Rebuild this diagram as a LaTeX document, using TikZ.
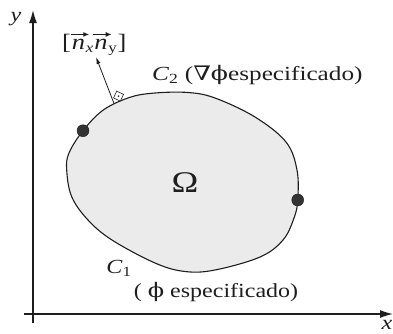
\documentclass[tikz,border=0pt]{standalone}
\usepackage{graphicx}
\usepackage{fontspec}
\setmainfont{Liberation Serif}
\newfontfamily\symfont{DejaVu Serif}
\usetikzlibrary{arrows.meta,positioning}
\definecolor{ink}{HTML}{1E1E1E}
\definecolor{regionfill}{HTML}{EBEBEB}
\definecolor{dotfill}{HTML}{333333}
\tikzset{
  axis/.style={draw=ink, line width=1.3pt, -{Latex[length=13pt,width=8pt]}},
  boundary/.style={draw=ink, line width=1.1pt, fill=regionfill},
  bdot/.style={circle, fill=dotfill, draw=ink, line width=0.4pt, minimum size=12pt, inner sep=0pt},
  lbl/.style={text=ink, inner sep=0pt, font=\fontsize{20}{22}\selectfont},
  normalarrow/.style={draw=ink, line width=0.8pt, -{Latex[length=7pt,width=4pt]}},
  vecarrow/.style={draw=ink, line width=1.4pt, -{Latex[length=6pt,width=5pt]}},
  rightsq/.style={draw=ink, line width=0.6pt, fill=white, minimum size=7.5pt, inner sep=0pt, rotate=-25},
}
\newcommand{\wide}[2][1.2]{\scalebox{#1}[1]{#2}}
\begin{document}
\begin{tikzpicture}[x=1pt,y=-1pt]
\useasboundingbox (0,0) rectangle (393,333);
% axes
\coordinate (xs) at (24,314);
\coordinate (xe) at (393,314);
\coordinate (ys) at (33,323);
\coordinate (ye) at (33,10);
\draw[axis] (xs) -- (xe);
\draw[axis] (ys) -- (ye);
\node[lbl, font=\fontsize{20}{22}\selectfont\itshape] (xl) at (387,325) {\wide{x}};
\node[lbl, font=\fontsize{20}{22}\selectfont\itshape] (yl) at (16,19) {\wide{y}};
% region
\draw[boundary] plot[smooth cycle, tension=0.6] coordinates {
  (83,130.7) (103.3,110) (130,97.3) (155,93) (188,92.5) (215,98)
  (255,117) (286,142) (297,170) (297.7,200) (294,218)
  (283,240) (260,257) (215,270) (185,271.5) (155,263) (112,240)
  (88,220) (71.7,196.7) (66.7,170) (69,153)
};
\node[bdot] (d1) at (83,130.7) {};
\node[bdot] (d2) at (297.7,200) {};
% normal vector
\coordinate (t) at (114,103.5);
\node[rightsq, anchor=south east] (sq) at (120.5,101.5) {};
\fill[ink] (sq.center) circle (0.9pt);
\coordinate (tip) at (96,57);
\draw[normalarrow] (t) -- (tip);
% label [n_x n_y]
\node[lbl, anchor=base west, font=\fontsize{22}{24}\selectfont] (lb) at (62,49) {\wide{[}};
\node[lbl, base right=0.5pt of lb, font=\fontsize{22}{24}\selectfont\itshape] (n1) {\wide{n}};
\node[lbl, base right=0.5pt of n1, yshift=-3pt, font=\fontsize{14}{15}\selectfont\itshape] (sx) {\wide{x}};
\node[lbl, base right=0.5pt of sx, yshift=3pt, font=\fontsize{22}{24}\selectfont\itshape] (n2) {\wide{n}};
\node[lbl, base right=0.5pt of n2, yshift=-3pt, font=\fontsize{14}{15}\selectfont] (sy) {\wide{y}};
\node[lbl, base right=0.5pt of sy, yshift=3pt, font=\fontsize{22}{24}\selectfont] (rb) {\wide{]}};
\draw[vecarrow] ([xshift=-1pt,yshift=4pt]n1.north west) -- ([xshift=4pt,yshift=4pt]n1.north east);
\draw[vecarrow] ([xshift=-1pt,yshift=4pt]n2.north west) -- ([xshift=4pt,yshift=4pt]n2.north east);
% labels
\node[lbl] (omega) at (185,183) {\fontsize{30}{32}\selectfont\wide{Ω}};
\node[lbl, anchor=base west] (c2) at (152,80) {\wide[1.26]{\textit{C}\textsubscript{2} ({\symfont ∇ϕ}especificado)}};
\node[lbl] (c1) at (119,268) {\wide{\textit{C}\textsubscript{1}}};
\node[lbl] (c1t) at (216,292) {\wide{( {\symfont ϕ} especificado)}};
\end{tikzpicture}
\end{document}
